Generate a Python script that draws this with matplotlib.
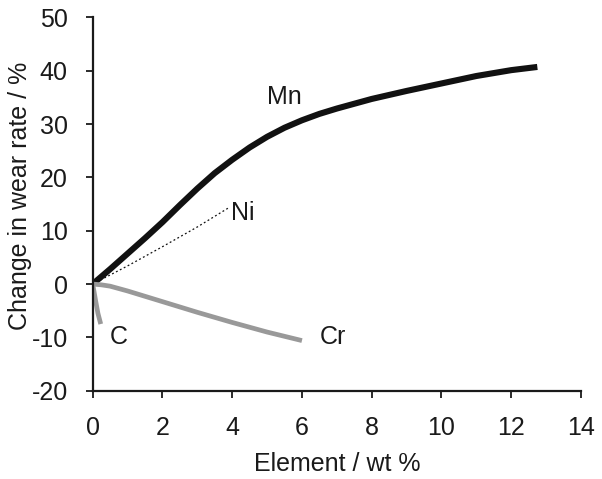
import matplotlib

matplotlib.use("Agg")
import matplotlib.pyplot as plt  # noqa: E402

plt.rcParams["font.family"] = ["Liberation Sans", "DejaVu Sans"]
plt.rcParams["axes.unicode_minus"] = False

# Curves (wt % vs change in wear rate %)
mn_x = [0, 0.5, 1.0, 1.5, 2.0, 2.5, 3.0, 3.5, 4.0, 4.5, 5.0, 5.5, 6.0, 6.5,
        7.0, 8.0, 9.0, 10.0, 11.0, 12.0, 12.75]
mn_y = [0, 2.8, 5.7, 8.6, 11.6, 14.8, 17.9, 20.8, 23.3, 25.6, 27.6, 29.3,
        30.7, 31.9, 32.9, 34.7, 36.2, 37.6, 39.0, 40.1, 40.7]

ni_x = [0, 1, 2, 3, 3.9]
ni_y = [0, 3.4, 7.0, 10.7, 14.3]

cr_x = [0, 0.25, 0.5, 1, 1.5, 2, 3, 4, 5, 6]
cr_y = [0, -0.15, -0.4, -1.3, -2.3, -3.3, -5.3, -7.2, -9.0, -10.6]

c_x = [0, 0.04, 0.08, 0.15, 0.23]
c_y = [0, -1.5, -3.0, -5.5, -7.5]

labels = ["Mn", "Ni", "C", "Cr"]
label_x = [5.5, 4.3, 0.75, 6.9]
label_y = [35.1, 13.3, -10.0, -10.0]

GREY = "#999999"
INK = "#1a1a1a"

fig = plt.figure(figsize=(6.02, 4.79), dpi=100)
ax = fig.add_axes([0.154, 0.1843, 0.811, 0.7795])

ax.plot(mn_x, mn_y, color="#111111", linewidth=4.4,
        solid_capstyle="butt", solid_joinstyle="round")
ax.plot(ni_x, ni_y, color="#111111", linewidth=0.9, linestyle=(0, (1.5, 2)))
ax.plot(cr_x, cr_y, color=GREY, linewidth=3.4,
        solid_capstyle="butt", solid_joinstyle="round")
ax.plot(c_x, c_y, color=GREY, linewidth=3.4,
        solid_capstyle="butt", solid_joinstyle="round")

for name, lx, ly in zip(labels, label_x, label_y):
    ax.text(lx, ly, name, fontsize=18, ha="center", va="center", color=INK)

ax.set_xlim(0, 14)
ax.set_ylim(-20, 50)
ax.set_xticks(range(0, 15, 2))
ax.set_yticks(range(-20, 51, 10))

for side in ("top", "right"):
    ax.spines[side].set_visible(False)
for side in ("left", "bottom"):
    ax.spines[side].set_linewidth(1.6)
    ax.spines[side].set_color(INK)

ax.tick_params(direction="out", length=5, width=1.3, labelsize=18,
               colors=INK, pad=13)

ax.set_xlabel("Element / wt %", fontsize=18, color=INK)
ax.xaxis.label.set_va("center")
ax.xaxis.set_label_coords(0.5, -0.196)
ax.set_ylabel("Change in wear rate / %", fontsize=18, color=INK)
ax.yaxis.label.set_va("center")
ax.yaxis.set_label_coords(-0.149, 0.521)

fig.savefig("out.png", dpi=100)
